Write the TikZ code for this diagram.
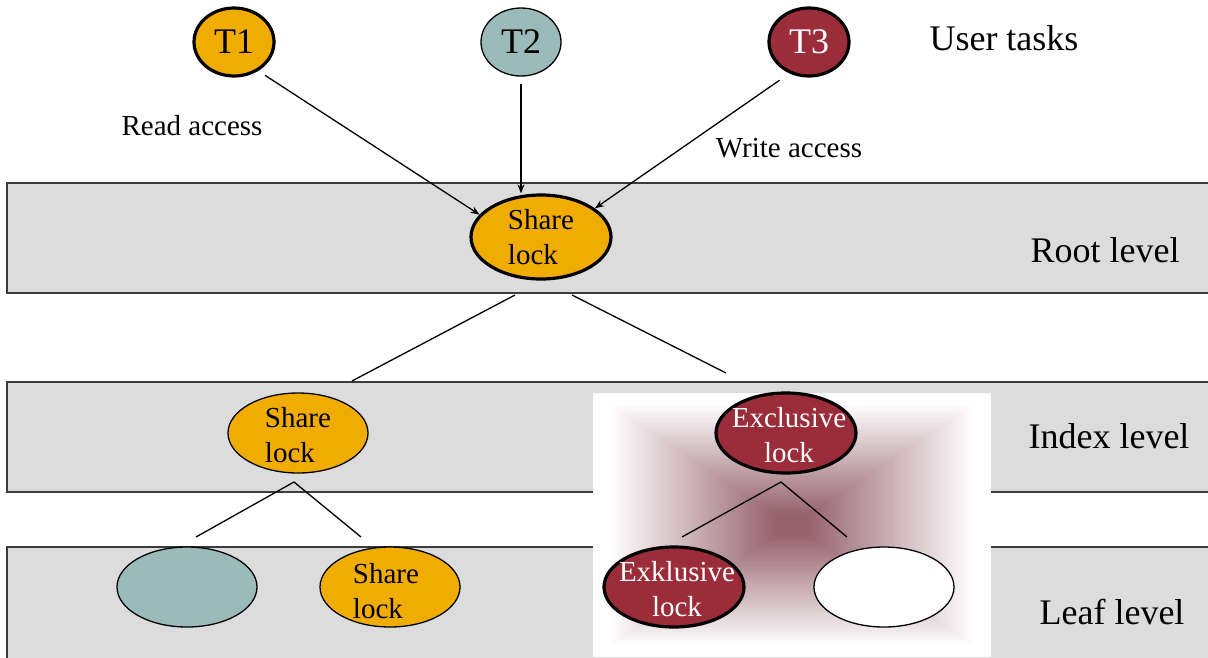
\documentclass[tikz,border=0pt]{standalone}
\usepackage{fontspec}
\setmainfont{Liberation Serif}
\usetikzlibrary{shapes.geometric,arrows.meta}

\definecolor{lockorange}{RGB}{240,172,0}
\definecolor{idleteal}{RGB}{155,187,187}
\definecolor{lockred}{RGB}{155,45,58}
\definecolor{bandgray}{RGB}{220,220,220}
\definecolor{bandline}{RGB}{60,60,60}
\definecolor{glow}{RGB}{150,98,110}

\tikzset{
  band/.style={fill=bandgray, draw=bandline, line width=1.8pt},
  lock/.style={ellipse, draw=black, inner sep=0pt, minimum width=140pt,
    minimum height=80pt, line width=1.3pt},
  task/.style={ellipse, draw=black, inner sep=0pt, minimum width=80pt,
    minimum height=68pt, line width=1.3pt},
  held/.style={line width=3.2pt},
  locktext/.style={font=\fontsize{29}{35}\selectfont, align=left, inner sep=0pt},
  lockcentre/.style={font=\fontsize{29}{35}\selectfont, align=center, inner sep=0pt},
  tasktext/.style={font=\fontsize{36}{40}\selectfont, inner sep=0pt},
  leveltext/.style={font=\fontsize{36}{40}\selectfont, inner sep=0pt, anchor=base},
  notetext/.style={font=\fontsize{29}{32}\selectfont, inner sep=0pt, anchor=base},
  link/.style={line width=1.3pt},
  access/.style={link, -{Stealth[length=9pt,width=7pt]}},
}

\begin{document}
\begin{tikzpicture}[x=1pt,y=-1pt]
\useasboundingbox (0,0) rectangle (1208,657);

% level bands
\draw[band] (7,183) rectangle (1220,293);
\draw[band] (7,382) rectangle (1220,492);
\draw[band] (7,547) rectangle (1220,670);

% highlighted region around the write path (rectangular gradient)
\foreach \k in {0,...,100}{
  \pgfmathsetmacro\s{1-\k/100}
  \pgfmathsetmacro\p{max(0,min(100,110*(1-\s/0.92)))}
  \fill[glow!\p!white] ({792-199*\s},{525-132*\s}) rectangle ({792+199*\s},{525+132*\s});
}

% user tasks
\node[task, held, fill=lockorange] (t1) at (234,42) {};
\node[task, fill=idleteal] (t2) at (521,42) {};
\node[task, held, fill=lockred] (t3) at (809,42) {};
\node[tasktext] (t1txt) at (t1) {T1};
\node[tasktext] (t2txt) at (t2) {T2};
\node[tasktext, text=white] (t3txt) at (t3) {T3};

% lock nodes
\node[lock, held, fill=lockorange, minimum height=84pt] (root) at (541,237) {};
\node[lock, fill=lockorange] (idxS) at (298,433) {};
\node[lock, held, fill=lockred] (idxX) at (786,433) {};
\node[lock, fill=idleteal] (leafA) at (187,587) {};
\node[lock, fill=lockorange] (leafS) at (390,587) {};
\node[lock, held, fill=lockred] (leafX) at (674,587) {};
\node[lock, fill=white] (leafB) at (884,587) {};

% access arrows
\draw[access, shorten <=8pt] (t1.-50) -- (root.160);
\draw[access, shorten <=7pt] (t2.south) -- (t2.south |- root.north);
\draw[access, shorten <=12pt] (t3.-122) -- (root.28);

% tree edges between levels
\coordinate (rootL) at (515,295);
\coordinate (rootR) at (572,295);
\coordinate (idxSin) at (352,381);
\coordinate (idxXin) at (726,373);
\draw[link] (rootL) -- (idxSin);
\draw[link] (rootR) -- (idxXin);

\coordinate (idxSout) at (294,482);
\coordinate (leafAin) at (196,537);
\coordinate (leafSin) at (361,537);
\draw[link] (leafAin) -- (idxSout) -- (leafSin);

\coordinate (idxXout) at (781,482);
\coordinate (leafXin) at (682,537);
\coordinate (leafBin) at (847,537);
\draw[link] (leafXin) -- (idxXout) -- (leafBin);

% lock labels
\node[locktext] (rootTxt) at (541,237) {Share\\lock};
\node[locktext] (idxSTxt) at (298,435) {Share\\lock};
\node[lockcentre, text=white] (idxXTxt) at (789,435) {Exclusive\\lock};
\node[locktext] (leafSTxt) at (386,591) {Share\\lock};
\node[lockcentre, text=white] (leafXTxt) at (677,589) {Exklusive\\lock};

% annotations
\node[leveltext] (userLbl) at (1004,50) {User tasks};
\node[notetext] (readLbl) at (192,135) {Read access};
\node[notetext] (writeLbl) at (789,157) {Write access};
\node[leveltext] (rootLbl) at (1105,262) {Root level};
\node[leveltext] (idxLbl) at (1109,448) {Index level};
\node[leveltext] (leafLbl) at (1112,624) {Leaf level};
\end{tikzpicture}
\end{document}
